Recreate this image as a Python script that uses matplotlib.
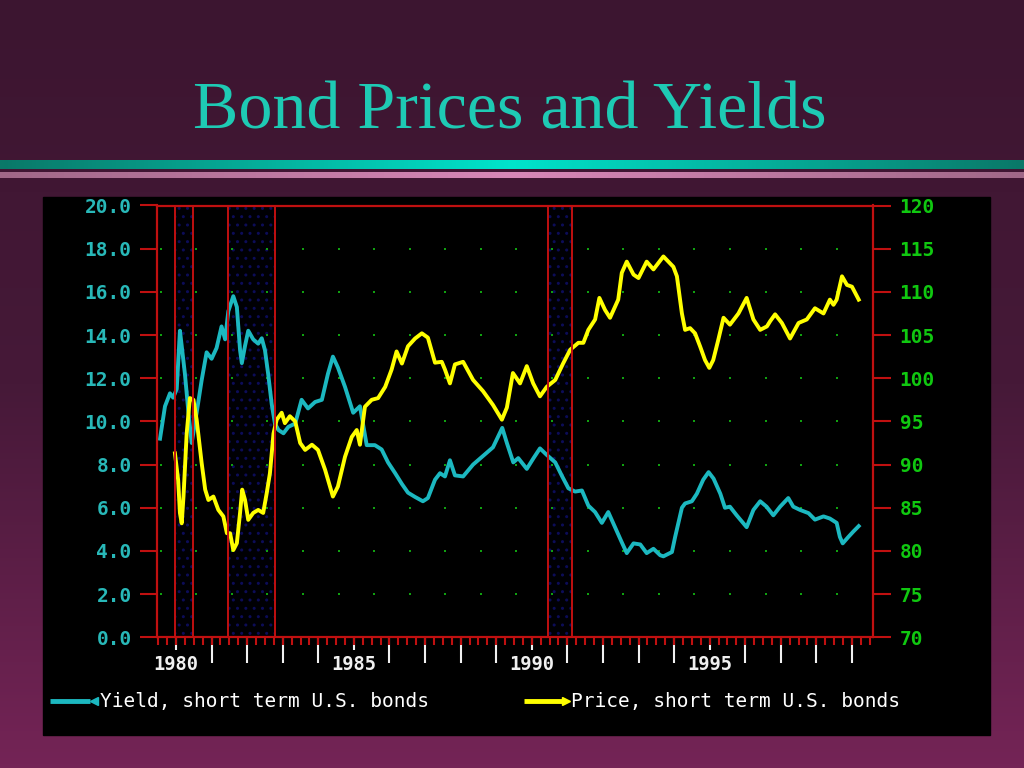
import numpy as np
import matplotlib.pyplot as plt
from matplotlib.patches import Rectangle
from matplotlib.colors import LinearSegmentedColormap

# short term U.S. bonds, yield (%)
yield_years = [1979.55, 1979.69, 1979.83, 1979.92, 1980.02, 1980.11, 1980.16, 1980.25,
               1980.35, 1980.44, 1980.58, 1980.72, 1980.86, 1981.00, 1981.14, 1981.28,
               1981.38, 1981.47, 1981.61, 1981.71, 1981.80, 1981.85, 1981.94, 1982.03,
               1982.17, 1982.31, 1982.41, 1982.50, 1982.59, 1982.69, 1982.78, 1982.88,
               1983.02, 1983.16, 1983.35, 1983.53, 1983.71, 1983.91, 1984.10, 1984.27,
               1984.41, 1984.55, 1984.75, 1984.98, 1985.17, 1985.36, 1985.59, 1985.78,
               1985.96, 1986.16, 1986.35, 1986.52, 1986.72, 1986.94, 1987.08, 1987.28,
               1987.42, 1987.56, 1987.70, 1987.84, 1988.07, 1988.35, 1988.63, 1988.91,
               1989.17, 1989.30, 1989.48, 1989.62, 1989.86, 1990.05, 1990.23, 1990.42,
               1990.66, 1990.84, 1991.03, 1991.22, 1991.41, 1991.59, 1991.78, 1991.97,
               1992.15, 1992.34, 1992.53, 1992.67, 1992.86, 1993.05, 1993.23, 1993.42,
               1993.61, 1993.70, 1993.94, 1994.03, 1994.22, 1994.31, 1994.50, 1994.64,
               1994.82, 1994.97, 1995.11, 1995.30, 1995.43, 1995.57, 1995.76, 1996.04,
               1996.23, 1996.42, 1996.60, 1996.79, 1996.98, 1997.21, 1997.35, 1997.54,
               1997.78, 1997.96, 1998.20, 1998.38, 1998.57, 1998.66, 1998.74, 1998.90,
               1999.04, 1999.19]
yield_vals = [9.2, 10.7, 11.3, 11.1, 11.5, 14.2, 13.5, 12.2,
              10.4, 9.0, 10.4, 11.9, 13.2, 12.9, 13.4, 14.4,
              13.8, 15.1, 15.8, 15.3, 13.3, 12.7, 13.5, 14.2,
              13.8, 13.6, 13.85, 13.3, 12.2, 10.8, 9.9, 9.6,
              9.45, 9.75, 9.9, 11.0, 10.6, 10.9, 11.0, 12.2,
              13.0, 12.5, 11.6, 10.4, 10.7, 8.9, 8.9, 8.7,
              8.1, 7.6, 7.1, 6.7, 6.5, 6.3, 6.45, 7.3,
              7.6, 7.45, 8.2, 7.5, 7.45, 8.0, 8.4, 8.8,
              9.7, 9.0, 8.1, 8.3, 7.8, 8.3, 8.75, 8.45,
              8.1, 7.5, 6.9, 6.75, 6.8, 6.1, 5.8, 5.3,
              5.8, 5.1, 4.4, 3.9, 4.35, 4.3, 3.9, 4.1,
              3.8, 3.75, 3.95, 4.65, 6.0, 6.2, 6.3, 6.65,
              7.3, 7.65, 7.35, 6.65, 6.0, 6.05, 5.65, 5.1,
              5.9, 6.3, 6.05, 5.65, 6.05, 6.45, 6.05, 5.9,
              5.75, 5.45, 5.6, 5.5, 5.3, 4.65, 4.35, 4.65,
              4.9, 5.15]

# short term U.S. bonds, price
price_years = [1979.97, 1980.06, 1980.11, 1980.16, 1980.21, 1980.30, 1980.39, 1980.49,
               1980.58, 1980.72, 1980.82, 1980.91, 1981.05, 1981.19, 1981.33, 1981.43,
               1981.52, 1981.61, 1981.71, 1981.80, 1981.86, 1981.94, 1982.03, 1982.17,
               1982.31, 1982.45, 1982.55, 1982.64, 1982.74, 1982.83, 1982.97, 1983.06,
               1983.20, 1983.35, 1983.49, 1983.63, 1983.82, 1983.99, 1984.19, 1984.41,
               1984.55, 1984.75, 1984.94, 1985.08, 1985.17, 1985.31, 1985.50, 1985.68,
               1985.88, 1986.06, 1986.20, 1986.35, 1986.52, 1986.72, 1986.91, 1987.08,
               1987.28, 1987.47, 1987.56, 1987.70, 1987.84, 1988.07, 1988.35, 1988.63,
               1988.91, 1989.16, 1989.30, 1989.47, 1989.67, 1989.86, 1990.04, 1990.23,
               1990.42, 1990.66, 1990.88, 1991.08, 1991.31, 1991.45, 1991.59, 1991.78,
               1991.90, 1992.06, 1992.20, 1992.43, 1992.53, 1992.67, 1992.86, 1993.00,
               1993.23, 1993.42, 1993.70, 1993.98, 1994.08, 1994.22, 1994.31, 1994.45,
               1994.59, 1994.73, 1994.87, 1994.99, 1995.10, 1995.24, 1995.39, 1995.57,
               1995.81, 1996.04, 1996.23, 1996.42, 1996.61, 1996.70, 1996.84, 1997.03,
               1997.26, 1997.50, 1997.73, 1997.96, 1998.20, 1998.38, 1998.48, 1998.57,
               1998.72, 1998.86, 1999.00, 1999.19]
price_vals = [91.3, 88.2, 84.4, 83.2, 86.3, 93.6, 97.7, 97.5,
              95.2, 90.2, 87.1, 85.9, 86.3, 84.75, 84.0, 82.05,
              82.05, 80.1, 80.9, 84.4, 87.1, 85.9, 83.6, 84.4,
              84.75, 84.4, 86.7, 89.0, 93.6, 95.2, 96.0, 94.8,
              95.6, 95.0, 92.5, 91.7, 92.3, 91.7, 89.4, 86.3,
              87.45, 90.9, 93.2, 94.0, 92.3, 96.7, 97.5, 97.7,
              99.0, 101.0, 103.1, 101.7, 103.7, 104.6, 105.2, 104.7,
              101.8, 101.9, 101.0, 99.4, 101.6, 101.9, 99.8, 98.5,
              96.9, 95.2, 96.6, 100.6, 99.4, 101.4, 99.4, 97.9,
              99.0, 99.8, 101.7, 103.3, 104.1, 104.1, 105.6, 106.8,
              109.3, 107.9, 107.0, 109.1, 112.2, 113.5, 112.0, 111.6,
              113.5, 112.6, 114.1, 112.9, 111.8, 107.5, 105.6, 105.8,
              105.2, 103.7, 102.1, 101.2, 102.1, 104.4, 107.0, 106.2,
              107.5, 109.3, 106.8, 105.6, 106.0, 106.6, 107.4, 106.4,
              104.6, 106.4, 106.8, 108.1, 107.5, 109.1, 108.5, 109.1,
              111.8, 110.8, 110.6, 109.1]

recessions = [(1979.96, 1980.47), (1981.47, 1982.79), (1990.47, 1991.12)]
left_ticks = np.arange(0, 21, 2)
right_ticks = np.arange(70, 121, 5)
label_years = [1980, 1985, 1990, 1995]
other_years = [y for y in range(1980, 2000) if y % 5 != 0]
quarters = np.arange(1979.5, 1999.6, 0.25)

W, H = 1024, 768
RED = '#c01010'
CYAN = '#1cb8c0'
YELLOW = '#ffff00'
MONO = 'DejaVu Sans Mono'

fig = plt.figure(figsize=(10.24, 7.68), dpi=100)

# slide background, pixel coordinates
bg = fig.add_axes([0, 0, 1, 1])
bg.set_xlim(0, W)
bg.set_ylim(H, 0)
bg.axis('off')
vert = np.linspace(0, 1, 256).reshape(-1, 1)
bg.imshow(vert, cmap=LinearSegmentedColormap.from_list('bg', ['#3c1530', '#461938', '#742456']),
          extent=[0, W, H, 0], aspect='auto')
horiz = np.linspace(0, 1, 256).reshape(1, -1)
bg.imshow(horiz, cmap=LinearSegmentedColormap.from_list('teal', ['#0a7868', '#00e4cc', '#0a7868']),
          extent=[0, W, 169, 160], aspect='auto')
bg.imshow(horiz, cmap=LinearSegmentedColormap.from_list('pink', ['#a06888', '#d888b8', '#a06888']),
          extent=[0, W, 178, 172], aspect='auto')
bg.text(510, 112, 'Bond Prices and Yields', ha='center', va='center',
        fontsize=49, family='Liberation Serif', color='#1ecab4')
bg.add_patch(Rectangle((43, 197), 947, 538, color='black'))

# legend
bg.plot([50, 90], [701, 701], color=CYAN, lw=3.5, solid_capstyle='butt')
bg.plot([94], [701], marker='<', ms=6, color=CYAN)
bg.text(100, 701, 'Yield, short term U.S. bonds', va='center', family=MONO,
        fontsize=14, color='white')
bg.plot([524, 562], [701, 701], color=YELLOW, lw=3.5, solid_capstyle='butt')
bg.plot([566], [701], marker='>', ms=6, color=YELLOW)
bg.text(571, 701, 'Price, short term U.S. bonds', va='center', family=MONO,
        fontsize=14, color='white')

# main chart
ax = fig.add_axes([156.7 / W, 1 - 637.3 / H, (873.3 - 156.7) / W, (637.3 - 205.5) / H])
ax.set_facecolor('black')
ax.set_xlim(1979.457, 1999.6)
ax.set_ylim(0, 20)

plt.rcParams['hatch.linewidth'] = 1.0
for a, b in recessions:
    ax.axvspan(a, b, facecolor='#000004', edgecolor='#0c0c58', hatch='..', lw=0, zorder=0)

gx, gy = np.meshgrid(np.arange(1979.57, 1999.0, 1.0), left_ticks)
ax.scatter(gx.ravel(), gy.ravel(), s=1.5, color='#10a010', marker='s', lw=0, zorder=1)

ax.plot(yield_years, yield_vals, color=CYAN, lw=2.8, zorder=3)

ax.set_yticks(left_ticks)
ax.set_yticklabels(['%.1f' % v for v in left_ticks])
ax.tick_params(axis='y', colors=RED, labelcolor='#28b8b8', length=12, width=1.5, pad=6,
               labelsize=14)
# labelled years: short white ticks; other years: long white ticks
ax.set_xticks(label_years)
ax.set_xticklabels([str(y) for y in label_years])
ax.set_xticks(other_years, minor=True)
ax.tick_params(axis='x', which='major', colors='#f0f0f0', length=9, width=1.5, pad=4,
               labelsize=13.5)
ax.tick_params(axis='x', which='minor', colors='#f0f0f0', length=19, width=1.5)
for lab in ax.get_xticklabels() + ax.get_yticklabels():
    lab.set_family(MONO)
    lab.set_fontweight('bold')

# quarterly red ticks
axq = ax.twiny()
axq.set_xlim(ax.get_xlim())
axq.xaxis.set_ticks_position('bottom')
axq.set_xticks(quarters)
axq.set_xticklabels([])
axq.tick_params(axis='x', colors=RED, length=6, width=1.5)

ax2 = ax.twinx()
ax2.set_ylim(70, 120)
ax2.plot(price_years, price_vals, color=YELLOW, lw=2.8, zorder=3)
for a, b in recessions:
    ax2.axvline(a, color=RED, lw=1.4, zorder=4)
    ax2.axvline(b, color=RED, lw=1.4, zorder=4)
ax2.set_yticks(right_ticks)
ax2.tick_params(axis='y', colors=RED, labelcolor='#10c810', length=13, width=1.5, pad=6,
                labelsize=14)
for lab in ax2.get_yticklabels():
    lab.set_family(MONO)
    lab.set_fontweight('bold')

for a in (ax, ax2, axq):
    for s in a.spines.values():
        s.set_color(RED)
        s.set_linewidth(1.5)

fig.savefig('out.png', dpi=100, facecolor=fig.get_facecolor())
